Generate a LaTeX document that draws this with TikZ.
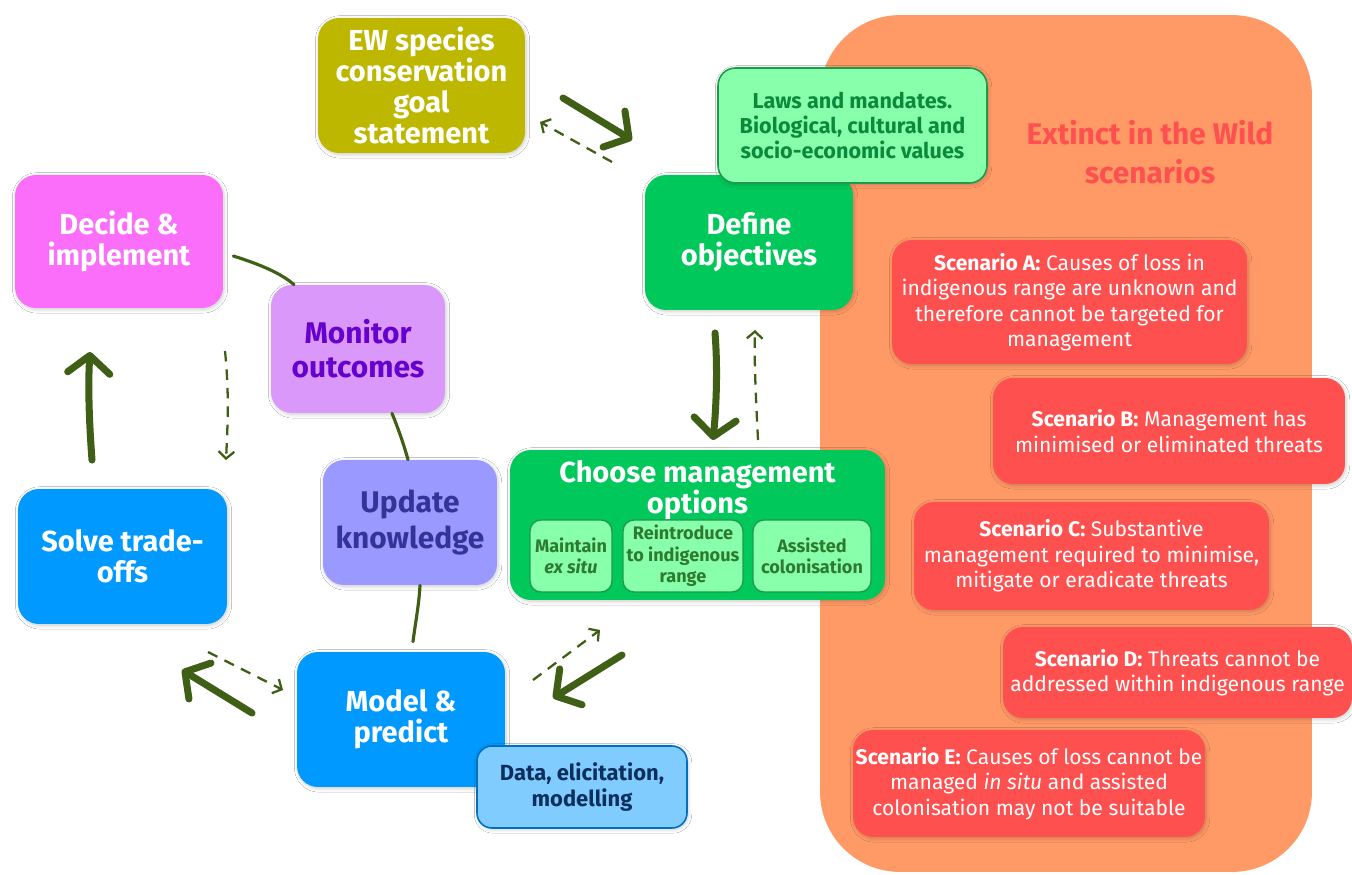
\documentclass[tikz,border=0pt]{standalone}
\usepackage{fontspec}
\setmainfont{Fira Sans}
\usetikzlibrary{arrows.meta,calc,shadows.blur}
\definecolor{bgorange}{HTML}{FF9966}
\definecolor{ewcol}{HTML}{BDB700}
\definecolor{lightgreen}{HTML}{88FFAA}
\definecolor{lawborder}{HTML}{1E9A4E}
\definecolor{lawtext}{HTML}{0B8A3C}
\definecolor{maingreen}{HTML}{00C85A}
\definecolor{subtext}{HTML}{2D7A30}
\definecolor{pinkcol}{HTML}{FA6EFA}
\definecolor{monitorcol}{HTML}{DA99FA}
\definecolor{monitortext}{HTML}{6600CC}
\definecolor{updatecol}{HTML}{9999FF}
\definecolor{updatetext}{HTML}{333399}
\definecolor{bluecol}{HTML}{0099FF}
\definecolor{datacol}{HTML}{80CCFF}
\definecolor{databorder}{HTML}{0070C0}
\definecolor{datatext}{HTML}{0D2F5E}
\definecolor{redcol}{HTML}{FF5050}
\definecolor{arrowgreen}{HTML}{3F5F16}
\begin{document}
\begin{tikzpicture}[x=0.02cm,y=-0.02cm,
  shade/.style={blur shadow={shadow blur steps=6, shadow xshift=0.6pt, shadow yshift=-0.8pt, shadow opacity=20}},
  box/.style={rounded corners=0.42cm, inner sep=0pt, align=center, shade,
    font=\fontsize{16.5}{17.6}\selectfont\bfseries, text=white},
  subbox/.style={rounded corners=0.22cm, inner sep=0pt, align=center, fill=lightgreen,
    draw=lawborder, line width=0.8pt, text=subtext, font=\fontsize{10.3}{12.3}\selectfont\bfseries},
  scen/.style={rounded corners=0.4cm, inner sep=0pt, align=center, fill=redcol, text=white, shade,
    font=\fontsize{12}{14.5}\selectfont},
  link/.style={draw=arrowgreen, line width=1.8pt, line cap=round},
  bigarrow/.style={draw=arrowgreen, line width=4pt, line cap=round,
    -{Straight Barb[length=10pt,width=24pt,line cap=round,line join=round]}},
  dasharrow/.style={draw=arrowgreen, line width=1.3pt, dash pattern=on 6pt off 4.5pt,
    -{Straight Barb[length=4pt,width=9pt]}}
]
\useasboundingbox (0,0) rectangle (1352,875);
\fill[white] (0,0) rectangle (1352,875);

% background panel
\node[draw=none, fill=bgorange, rounded corners=1.6cm, minimum width=9.84cm, minimum height=17.14cm, inner sep=0pt] (panel) at (1066,443.5) {};
\node[text=redcol, font=\fontsize{17}{22}\selectfont\bfseries, align=center] (paneltitle) at (1150,152) {Extinct in the Wild\\scenarios};

% main cycle boxes
\node[box, fill=ewcol, minimum width=4.14cm, minimum height=2.70cm] (ew) at (421.5,85.5) {EW species\\conservation\\goal\\statement};
\node[box, fill=maingreen, minimum width=4.16cm, minimum height=2.70cm] (define) at (749,242.5) {\raisebox{-3pt}{\parbox{4cm}{\centering Define\\objectives}}};
\node[rounded corners=0.35cm, inner sep=0pt, align=center, fill=lightgreen, draw=lawborder, line width=0.9pt,
  text=lawtext, font=\fontsize{12.3}{14.3}\selectfont\bfseries, minimum width=5.38cm, minimum height=2.30cm, shade] (laws) at (852.5,125.5)
  {Laws and mandates.\\Biological, cultural and\\socio-economic values};

\node[box, fill=maingreen, minimum width=7.50cm, minimum height=3.00cm] (choose) at (697.5,525) {};
\node[text=white, font=\fontsize{16.5}{17.6}\selectfont\bfseries, align=center, inner sep=0pt] (choosetitle) at (697.5,490) {Choose management\\options};
\node[subbox, minimum width=1.64cm, minimum height=1.44cm] (exsitu) at (571,556) {Maintain\\\textit{ex situ}};
\node[subbox, minimum width=2.40cm, minimum height=1.44cm] (reintro) at (683,556) {Reintroduce\\to indigenous\\range};
\node[subbox, minimum width=2.36cm, minimum height=1.44cm] (assisted) at (812,556) {Assisted\\colonisation};

\node[box, fill=pinkcol, minimum width=4.16cm, minimum height=2.66cm] (decide) at (119,241.5) {\raisebox{-3pt}{\parbox{4cm}{\centering Decide \&\\implement}}};
\node[box, fill=monitorcol, text=monitortext, minimum width=3.48cm, minimum height=2.56cm,
  font=\fontsize{17}{19.3}\selectfont\bfseries] (monitor) at (358,349) {Monitor\\outcomes};
\node[box, fill=updatecol, text=updatetext, minimum width=3.48cm, minimum height=2.50cm,
  font=\fontsize{17}{20.4}\selectfont\bfseries] (update) at (410,522.5) {\raisebox{-4pt}{\parbox{3.4cm}{\centering Update\\knowledge}}};
\node[box, fill=bluecol, minimum width=4.18cm, minimum height=2.70cm] (solve) at (122.5,556.5) {Solve trade-\\offs};
\node[box, fill=bluecol, minimum width=4.16cm, minimum height=2.70cm] (model) at (401,719.5) {Model \&\\predict};
\node[rounded corners=0.3cm, inner sep=0pt, align=center, fill=datacol, draw=databorder, line width=0.9pt,
  text=datatext, font=\fontsize{12.5}{14.7}\selectfont\bfseries, minimum width=4.20cm, minimum height=1.64cm, shade] (data) at (582,787)
  {Data, elicitation,\\modelling};

% scenarios
\node[scen, minimum width=7.10cm, minimum height=2.48cm] (scA) at (1069.5,302)
  {\textbf{Scenario A:} Causes of loss in\\indigenous range are unknown and\\therefore cannot be targeted for\\management};
\node[scen, minimum width=7.04cm, minimum height=2.12cm] (scB) at (1169,431)
  {\textbf{Scenario B:} Management has\\minimised or eliminated threats};
\node[scen, minimum width=7.10cm, minimum height=2.16cm] (scC) at (1091.5,556)
  {\textbf{Scenario C:} Substantive\\management required to minimise,\\mitigate or eradicate threats};
\node[scen, minimum width=6.98cm, minimum height=1.82cm] (scD) at (1177.5,672.5)
  {\textbf{Scenario D:} Threats cannot be\\addressed within indigenous range};
\node[scen, minimum width=7.04cm, minimum height=2.14cm] (scE) at (1029,783.5)
  {\textbf{Scenario E:} Causes of loss cannot be\\managed \textit{in situ} and assisted\\colonisation may not be suitable};

% plain links between cycle boxes
\draw[link] ($(decide.east)+(10,14.5)$) .. controls (262,265) and (282,274) .. ($(monitor.north)+(-64,0)$);
\draw[link] ($(monitor.south)+(34,0)$) .. controls (398,428) and (404,445) .. ($(update.north)+(-2,0)$);
\draw[link] ($(update.south)+(10,0)$) .. controls (419,605) and (415,625) .. ($(model.north)+(12,-10)$);

% arrow end points
\coordinate (ewA) at (563,98);   \coordinate (ewB) at (632,140);
\coordinate (ewC) at (612,162);  \coordinate (ewD) at (540,122);
\coordinate (defA) at (715,333); \coordinate (defB) at (713,440);
\coordinate (defC) at (758,440); \coordinate (defD) at (755,330);
\coordinate (chA) at (622,655);  \coordinate (chB) at (553,698);
\coordinate (chC) at (533,680);  \coordinate (chD) at (600,630);
\coordinate (moA) at (252,713);  \coordinate (moB) at (182,670);
\coordinate (moC) at (208,652);  \coordinate (moD) at (283,690);
\coordinate (soA) at (92,460);   \coordinate (soB) at (90,352);
\coordinate (soC) at (225,351);  \coordinate (soD) at (226,460);

\draw[bigarrow] (ewA) -- (ewB);
\draw[dasharrow] (ewC) -- (ewD);
\draw[bigarrow] (defA) .. controls (718,370) and (716,410) .. (defB);
\draw[dasharrow] (defC) .. controls (756,400) and (754,360) .. (defD);
\draw[bigarrow] (chA) -- (chB);
\draw[dasharrow] (chC) -- (chD);
\draw[bigarrow] (moA) -- (moB);
\draw[dasharrow] (moC) -- (moD);
\draw[bigarrow] (soA) .. controls (89,420) and (88,385) .. (soB);
\draw[dasharrow] (soC) .. controls (229,390) and (228,420) .. (soD);
\end{tikzpicture}
\end{document}
